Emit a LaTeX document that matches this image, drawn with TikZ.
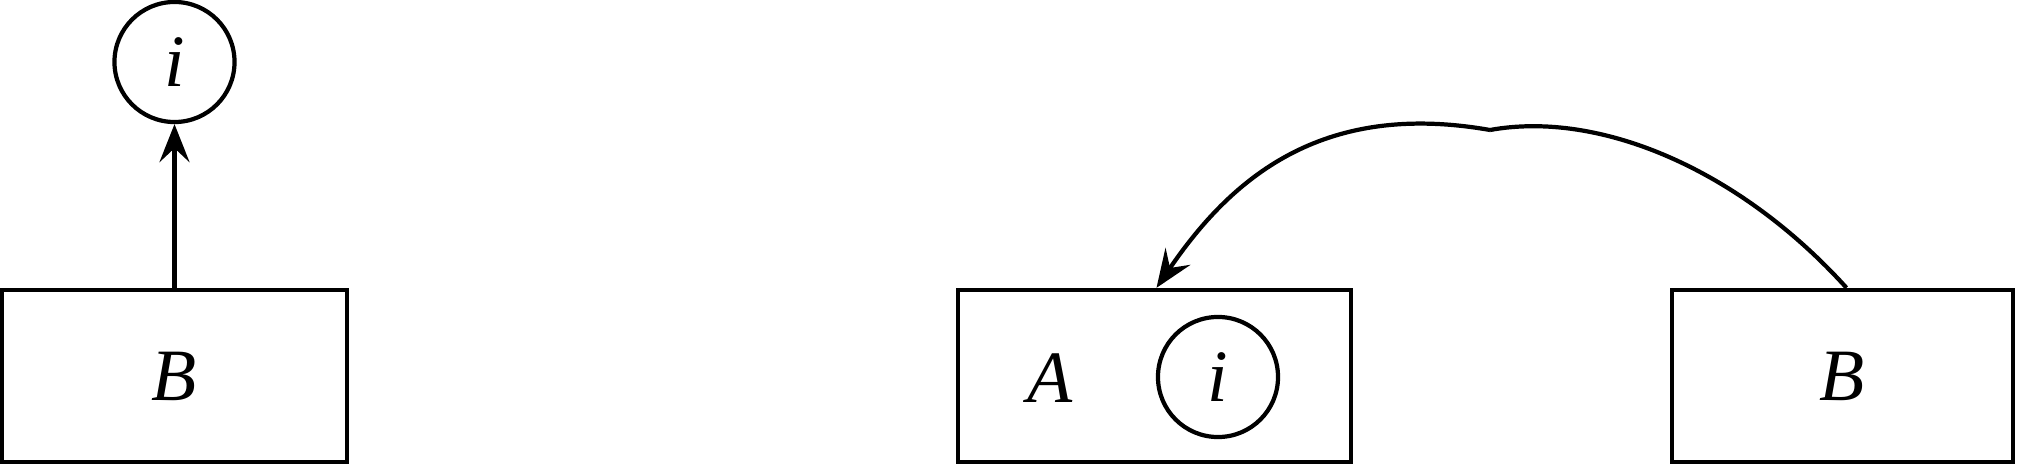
\documentclass[tikz,border=0pt]{standalone}
\usepackage{fontspec}
\setmainfont{Liberation Serif}
\usetikzlibrary{arrows.meta,calc}
\begin{document}
\begin{tikzpicture}[x=0.01cm,y=-0.01cm,
  boxst/.style={draw,line width=1.2pt,minimum width=3.45cm,minimum height=1.72cm,inner sep=0pt},
  circst/.style={draw,circle,line width=1.2pt,minimum size=1.2cm,inner sep=0pt},
  lbl/.style={font=\fontsize{21}{24}\selectfont\itshape},
  arr/.style={line width=1.2pt,-{Stealth[length=0.38cm,width=0.3cm,inset=0.14cm]}}]
\useasboundingbox (0,0) rectangle (2017,464);
\node[boxst,lbl] (b1) at (174.5,376) {B};
\node[circst,lbl] (i1) at (174.5,62) {i};
\draw[arr] (b1.north) -- (i1.south);
\node[boxst,minimum width=3.93cm] (ab) at (1154.5,376) {};
\node[lbl] (a) at (1050,378) {A};
\node[circst,lbl] (i2) at (1218,377) {i};
\node[boxst,lbl,minimum width=3.41cm] (b2) at (1842.5,376) {B};
\coordinate (s) at ($(b2.north)+(4,0)$);
\coordinate (e) at ($(ab.north)+(2,0)$);
\draw[arr] (s) .. controls (1740,170) and (1600,110) .. (1490,130) (1490,130) .. controls (1320,100) and (1230,180) .. (e);
\end{tikzpicture}
\end{document}
